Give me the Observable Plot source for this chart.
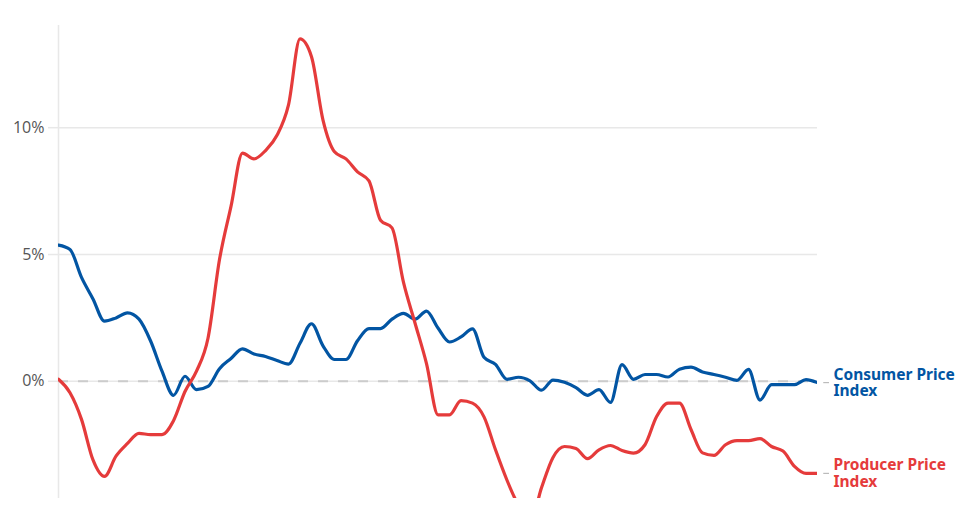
<!DOCTYPE html>
<html>
<head>
<meta charset="utf-8">
<script src="https://cdn.jsdelivr.net/npm/d3@7"></script>
<script src="https://cdn.jsdelivr.net/npm/@observablehq/plot@0.6"></script>
<style>
  html, body { margin: 0; padding: 0; background: #fff; }
  #chart svg { display: block; }
</style>
</head>
<body>
<div id="chart"></div>
<script>
// Period index (evenly spaced observations)
const periods = d3.range(67);

// Year-over-year change, %
const cpiValues = [
  5.37, 5.2, 4.1, 3.25, 2.37, 2.5, 2.7, 2.45, 1.6, 0.4,
  -0.55, 0.2, -0.33, -0.2, 0.5, 0.9, 1.28, 1.08, 0.98, 0.82,
  0.68, 1.5, 2.27, 1.4, 0.86, 0.86, 1.6, 2.08, 2.08, 2.45,
  2.68, 2.45, 2.77, 2.1, 1.55, 1.75, 2.07, 0.95, 0.67, 0.08,
  0.16, 0.02, -0.35, 0.05, -0.04, -0.25, -0.55, -0.33, -0.83, 0.66,
  0.08, 0.27, 0.27, 0.17, 0.48, 0.56, 0.37, 0.27, 0.16, 0.04,
  0.47, -0.74, -0.13, -0.13, -0.13, 0.07, -0.05
];
const ppiValues = [
  0.08, -0.45, -1.5, -3.1, -3.75, -2.95, -2.45, -2.05, -2.1, -2.1,
  -1.55, -0.4, 0.4, 1.7, 4.8, 6.9, 9.0, 8.77, 9.1, 9.7,
  10.9, 13.5, 12.8, 10.3, 9.05, 8.77, 8.26, 7.9, 6.35, 6.05,
  3.9, 2.3, 0.7, -1.32, -1.32, -0.76, -0.86, -1.4, -2.7, -3.9,
  -4.9, -5.6, -4.2, -3.0, -2.57, -2.65, -3.05, -2.7, -2.53, -2.73,
  -2.83, -2.5, -1.4, -0.86, -0.86, -1.9, -2.82, -2.92, -2.5, -2.34,
  -2.34, -2.26, -2.57, -2.75, -3.35, -3.63, -3.63
];
const seriesNames = ["Consumer Price\nIndex", "Producer Price\nIndex"];
const seriesColors = ["#0255a3", "#e53b3b"];
const yTicks = [0, 5, 10];
const yTickLabels = ["0%", "5%", "10%"];

const cpi = periods.map((p, i) => ({period: p, value: cpiValues[i], series: seriesNames[0]}));
const ppi = periods.map((p, i) => ({period: p, value: ppiValues[i], series: seriesNames[1]}));
const last = [cpi[cpi.length - 1], ppi[ppi.length - 1]];
const lastPeriod = periods[periods.length - 1];

const chart = Plot.plot({
  width: 968,
  height: 509,
  marginTop: 25,
  marginBottom: 11,
  marginLeft: 58,
  marginRight: 151,
  style: {fontFamily: "'Source Sans Pro', 'Open Sans', sans-serif", background: "#fff"},
  x: {type: "linear", domain: [0, lastPeriod], axis: null},
  y: {domain: [-4.62, 14.03], axis: null},
  color: {domain: seriesNames, range: seriesColors},
  marks: [
    Plot.ruleX([0], {stroke: "#e8e8e8", strokeWidth: 1.5}),
    Plot.ruleY(yTicks, {stroke: "#e8e8e8", strokeWidth: 1.5}),
    Plot.axisY({ticks: yTicks, label: null, tickFormat: (d) => yTickLabels[yTicks.indexOf(d)], tickSize: 10, stroke: "#e8e8e8", strokeWidth: 1.5, strokeOpacity: 1, tickPadding: 4, fontSize: 16, fill: "#555"}),
    Plot.ruleY([0], {stroke: "#cccccc", strokeWidth: 2, strokeDasharray: "10,10"}),
    Plot.line(cpi, {x: "period", y: "value", stroke: "series", strokeWidth: 3.2, curve: "monotone-x", clip: true}),
    Plot.line(ppi, {x: "period", y: "value", stroke: "series", strokeWidth: 3.2, curve: "monotone-x", clip: true}),
    Plot.link(last, {x1: (d) => d.period + 0.5, x2: (d) => d.period + 1.0, y1: "value", y2: "value", stroke: "#bbb", strokeWidth: 1.2}),
    Plot.text(last, {x: "period", y: "value", text: "series", fill: "series", dx: 16, textAnchor: "start", lineAnchor: "middle", fontWeight: "bold", fontSize: 15.5, lineHeight: 1.05, fontFamily: "'Source Sans Pro', 'Noto Sans', sans-serif"})
  ]
});
document.getElementById("chart").appendChild(chart);
</script>
</body>
</html>
